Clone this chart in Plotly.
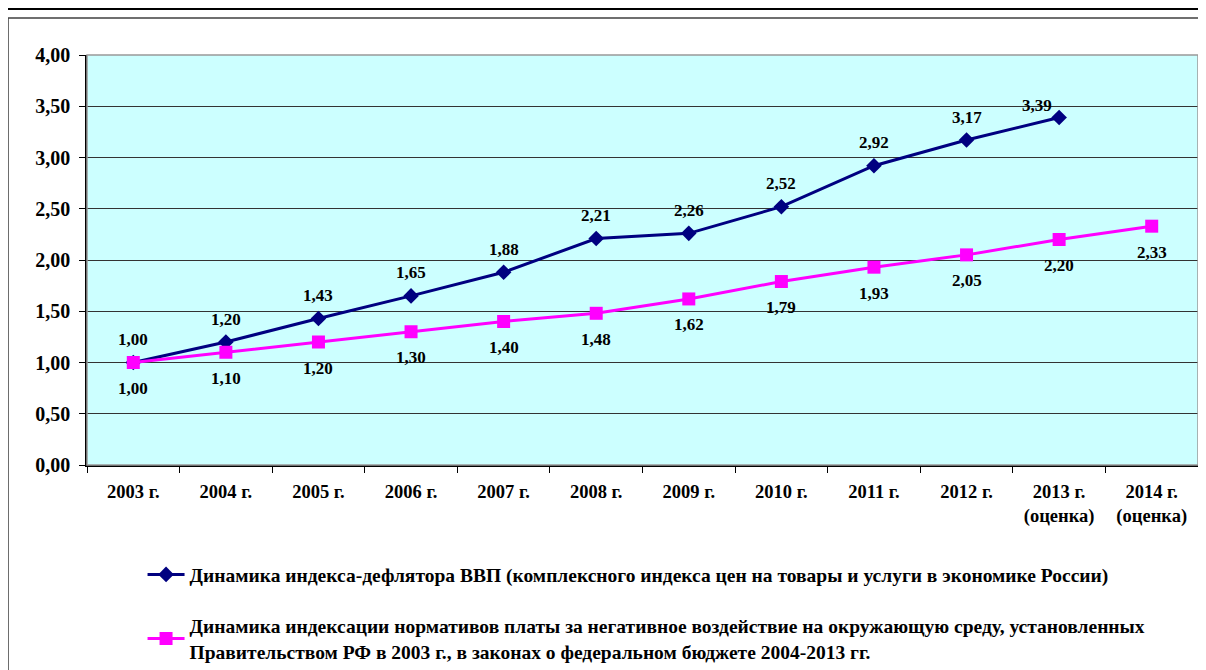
import plotly.graph_objects as go

categories = ["2003 г.", "2004 г.", "2005 г.", "2006 г.", "2007 г.", "2008 г.",
              "2009 г.", "2010 г.", "2011 г.", "2012 г.", "2013 г.<br>(оценка)",
              "2014 г.<br>(оценка)"]
deflator = [1.00, 1.20, 1.43, 1.65, 1.88, 2.21, 2.26, 2.52, 2.92, 3.17, 3.39]
indexation = [1.00, 1.10, 1.20, 1.30, 1.40, 1.48, 1.62, 1.79, 1.93, 2.05, 2.20, 2.33]
y_ticks = [0, 0.5, 1.0, 1.5, 2.0, 2.5, 3.0, 3.5, 4.0]

name1 = "Динамика индекса-дефлятора ВВП (комплексного индекса цен на товары и услуги в экономике России)"
name2 = ("Динамика индексации нормативов платы за негативное воздействие на окружающую среду, установленных<br>"
         "Правительством РФ в 2003 г., в законах о федеральном бюджете 2004-2013 гг.")

NAVY = "#000080"
MAGENTA = "#FF00FF"
FONT = "Liberation Serif, Times New Roman, serif"

fig = go.Figure()
fig.add_trace(go.Scatter(
    x=categories[:len(deflator)], y=deflator, name=name1, mode="lines+markers",
    line=dict(color=NAVY, width=3),
    marker=dict(symbol="diamond", size=12, color=NAVY),
    legendgroup="a",
))
fig.add_trace(go.Scatter(
    x=categories, y=indexation, name=name2, mode="lines+markers",
    line=dict(color=MAGENTA, width=3),
    marker=dict(symbol="square", size=13, color=MAGENTA),
    legendgroup="b",
))

def fmt(v):
    return f"{v:.2f}".replace(".", ",")

label_font = dict(family=FONT, size=17, color="black", weight="bold")
annotations = []
last = len(deflator) - 1
for i, v in enumerate(deflator):
    annotations.append(dict(x=categories[i], y=v, xref="x", yref="y", text=fmt(v),
                            showarrow=False,
                            yshift=12 if i == last else 23,
                            xshift=-22 if i == last else 0,
                            font=label_font))
for i, v in enumerate(indexation):
    annotations.append(dict(x=categories[i], y=v, xref="x", yref="y", text=fmt(v),
                            showarrow=False, yshift=-26, font=label_font))

shapes = [
    # outer chart frame
    dict(type="rect", xref="paper", yref="paper", x0=-0.0711, x1=1.1, y0=-0.75, y1=1.0902,
         line=dict(color="#404040", width=1.5), layer="below"),
    # document rule above the chart
    dict(type="line", xref="paper", yref="paper", x0=-0.08, x1=1.01, y0=1.1146, y1=1.1146,
         line=dict(color="black", width=4)),
    # plot border
    dict(type="rect", xref="paper", yref="paper", x0=0, x1=1, y0=0, y1=1,
         line=dict(color="#999999", width=1.5), layer="above"),
]

fig.update_layout(
    width=1198, height=662,
    margin=dict(l=79, r=8, t=47, b=205, autoexpand=False),
    paper_bgcolor="white",
    plot_bgcolor="#CCFFFF",
    separators=", ",
    font=dict(family=FONT, size=18, color="black", weight="bold"),
    showlegend=True,
    legend=dict(x=0.05, y=-0.22, xanchor="left", yanchor="top",
                font=dict(family=FONT, size=19.5, color="black", weight="bold"),
                tracegroupgap=23, traceorder="grouped", bgcolor="rgba(0,0,0,0)",
                itemwidth=37),
    annotations=annotations,
    shapes=shapes,
)
fig.update_xaxes(
    type="category", categoryorder="array", categoryarray=categories,
    range=[-0.5, len(categories) - 0.5],
    showline=True, linecolor="black", linewidth=1.5,
    ticks="outside", ticklen=6, tickcolor="black", tickson="boundaries",
    ticklabelstandoff=9,
    showgrid=False, tickfont=dict(family=FONT, size=18.5, weight="bold"),
)
fig.update_yaxes(
    range=[0, 4], tickvals=y_ticks, tickformat=".2f",
    showline=True, linecolor="black", linewidth=1.5,
    ticks="outside", ticklen=6, tickcolor="black",
    ticklabelstandoff=5,
    showgrid=True, gridcolor="#333333", gridwidth=1,
    zeroline=False, tickfont=dict(family=FONT, size=20, weight="bold"),
)

fig.write_html("out.html")
